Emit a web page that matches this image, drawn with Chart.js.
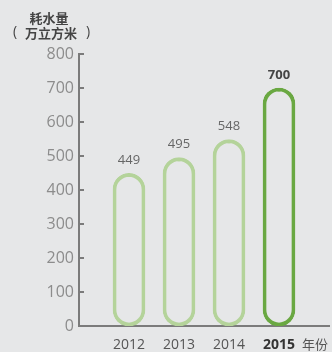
<!DOCTYPE html>
<html>
<head>
<meta charset="utf-8">
<script src="https://cdn.jsdelivr.net/npm/chart.js@4"></script>
<style>
  body { margin: 0; background: #e6e7e8; }
  canvas { display: block; }
</style>
</head>
<body>
<canvas id="grafico" width="332" height="352"></canvas>
<script>
// dados
let anos = ['2012', '2013', '2014', '2015'];
let consumo = [449, 495, 548, 700];
let marcasY = [0, 100, 200, 300, 400, 500, 600, 700, 800];
let destaque = '2015';

let verdeClaro = '#b4d39a';
let verdeEscuro = '#6aa842';

// uma categoria vazia antes e depois para empurrar as barras
let rotulos = [''].concat(anos, ['']);
let valores = [null].concat(consumo, [null]);

var extras = {
    id: 'extras',
    afterDraw(chart) {
        var ctx = chart.ctx;
        var y = chart.scales.y;
        var area = chart.chartArea;
        ctx.save();
        // pequenos tracos do eixo y, para dentro
        ctx.strokeStyle = '#7b7b7b';
        ctx.lineWidth = 2;
        y.ticks.forEach(t => {
            if (t.value === 0) return;
            var py = Math.round(y.getPixelForValue(t.value));
            ctx.beginPath();
            ctx.moveTo(area.left, py);
            ctx.lineTo(area.left + 5, py);
            ctx.stroke();
        });
        // valores acima das barras
        var meta = chart.getDatasetMeta(0);
        ctx.textAlign = 'center';
        ctx.textBaseline = 'middle';
        meta.data.forEach((bar, i) => {
            var v = valores[i];
            if (v == null) return;
            var forte = rotulos[i] === destaque;
            ctx.font = (forte ? 'bold ' : '') + '13px "Open Sans"';
            ctx.fillStyle = forte ? '#444' : '#666';
            ctx.fillText(String(v), bar.x, bar.y - 13);
        });
        // titulo do eixo y
        ctx.fillStyle = '#444';
        ctx.font = 'bold 13px "Noto Sans CJK SC"';
        ctx.fillText('耗水量', 49, 18);
        ctx.fillText('万立方米', 51, 33);
        ctx.font = '14px "Open Sans"';
        ctx.fillText('(', 15, 32);
        ctx.fillText(')', 88, 32);
        // titulo do eixo x
        ctx.font = '13px "Noto Sans CJK SC"';
        ctx.fillStyle = '#555';
        ctx.fillText('年份', 315, 344);
        ctx.restore();
    }
};

var chart = new Chart(document.getElementById('grafico'), {
    type: 'bar',
    data: {
        labels: rotulos,
        datasets: [{
            data: valores,
            backgroundColor: 'rgba(0,0,0,0)',
            borderColor: rotulos.map(r => r === destaque ? verdeEscuro : verdeClaro),
            borderWidth: 3,
            borderRadius: 100,
            borderSkipped: false,
            barThickness: 32
        }]
    },
    options: {
        responsive: false,
        animation: false,
        layout: { padding: { top: 54, right: 3, left: 0, bottom: 0 } },
        plugins: { legend: { display: false }, tooltip: { enabled: false } },
        scales: {
            x: {
                offset: false,
                grid: { display: false, drawTicks: false },
                border: { display: true, color: '#7b7b7b', width: 2 },
                ticks: {
                    padding: 11,
                    maxRotation: 0,
                    autoSkip: false,
                    color: c => c.tick && c.tick.label === destaque ? '#333' : '#555',
                    font: c => ({
                        family: 'Open Sans',
                        size: 14,
                        weight: c.tick && c.tick.label === destaque ? 'bold' : 'normal'
                    })
                },
                afterFit: s => { s.height = 26; s.paddingLeft = 0; s.paddingRight = 0; }
            },
            y: {
                min: marcasY[0],
                max: marcasY[marcasY.length - 1],
                afterBuildTicks: s => { s.ticks = marcasY.map(v => ({ value: v })); },
                grid: { display: false, drawTicks: false },
                border: { display: true, color: '#7b7b7b', width: 2 },
                ticks: {
                    padding: 5,
                    color: '#8c8c8c',
                    font: { family: 'Open Sans', size: 16 }
                },
                afterFit: s => { s.width = 79; }
            }
        }
    },
    plugins: [extras]
});
</script>
</body>
</html>
